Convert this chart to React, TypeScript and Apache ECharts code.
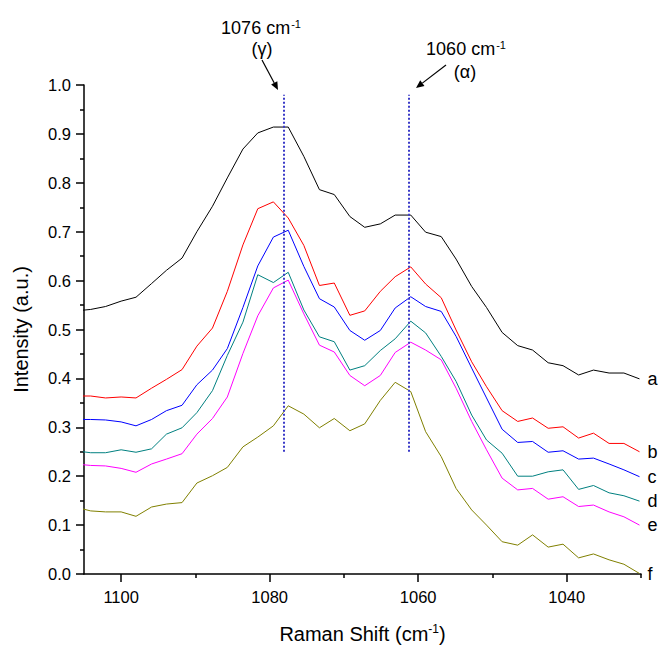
import React, { useEffect, useRef } from "react";
import * as echarts from "echarts";

// Raman shift positions (cm-1)
const ramanShift = [
  1106.2, 1104.1, 1102.1, 1100.0, 1098.0, 1095.9, 1093.9, 1091.8, 1089.8, 1087.7,
  1085.7, 1083.6, 1081.6, 1079.5, 1077.5, 1075.4, 1073.3, 1071.3, 1069.2, 1067.2,
  1065.1, 1063.1, 1061.0, 1059.0, 1056.9, 1054.9, 1052.8, 1050.8, 1048.7, 1046.6,
  1044.6, 1042.5, 1040.5, 1038.4, 1036.4, 1034.3, 1032.3, 1030.2,
];

const curveA = [
  0.538, 0.541, 0.547, 0.558, 0.566, 0.594, 0.621, 0.646, 0.700, 0.752,
  0.810, 0.869, 0.902, 0.914, 0.914, 0.854, 0.786, 0.776, 0.731, 0.709,
  0.716, 0.734, 0.734, 0.699, 0.690, 0.644, 0.588, 0.545, 0.494, 0.467,
  0.458, 0.432, 0.426, 0.407, 0.417, 0.411, 0.411, 0.399,
];
const curveB = [
  0.364, 0.364, 0.360, 0.362, 0.360, 0.380, 0.398, 0.418, 0.466, 0.503,
  0.578, 0.673, 0.747, 0.761, 0.728, 0.672, 0.590, 0.595, 0.529, 0.538,
  0.578, 0.608, 0.628, 0.593, 0.565, 0.499, 0.434, 0.383, 0.334, 0.312,
  0.319, 0.298, 0.301, 0.278, 0.288, 0.267, 0.267, 0.250,
];
const curveC = [
  0.316, 0.316, 0.315, 0.311, 0.303, 0.316, 0.334, 0.345, 0.387, 0.417,
  0.461, 0.545, 0.630, 0.689, 0.703, 0.629, 0.563, 0.546, 0.498, 0.478,
  0.498, 0.544, 0.567, 0.547, 0.537, 0.486, 0.421, 0.360, 0.296, 0.269,
  0.271, 0.249, 0.252, 0.235, 0.237, 0.225, 0.213, 0.199,
];
const curveD = [
  0.252, 0.248, 0.248, 0.254, 0.249, 0.256, 0.286, 0.299, 0.330, 0.375,
  0.447, 0.515, 0.612, 0.596, 0.617, 0.540, 0.485, 0.475, 0.417, 0.426,
  0.457, 0.481, 0.517, 0.493, 0.445, 0.394, 0.325, 0.274, 0.247, 0.200,
  0.200, 0.209, 0.213, 0.173, 0.181, 0.166, 0.160, 0.149,
];
const curveE = [
  0.225, 0.222, 0.221, 0.216, 0.208, 0.225, 0.235, 0.246, 0.286, 0.318,
  0.362, 0.451, 0.528, 0.585, 0.601, 0.532, 0.468, 0.454, 0.406, 0.385,
  0.406, 0.453, 0.474, 0.458, 0.438, 0.380, 0.312, 0.254, 0.196, 0.172,
  0.175, 0.153, 0.158, 0.138, 0.141, 0.127, 0.117, 0.100,
];
const curveF = [
  0.137, 0.129, 0.127, 0.127, 0.118, 0.137, 0.143, 0.146, 0.186, 0.201,
  0.218, 0.260, 0.280, 0.303, 0.344, 0.327, 0.299, 0.318, 0.293, 0.307,
  0.355, 0.392, 0.373, 0.291, 0.240, 0.175, 0.131, 0.100, 0.066, 0.059,
  0.080, 0.055, 0.061, 0.033, 0.041, 0.029, 0.020, 0.001,
];

const curveNames = ["a", "b", "c", "d", "e", "f"];
const curveValues = [curveA, curveB, curveC, curveD, curveE, curveF];
const curveColors = ["#000000", "#ff0000", "#0000ff", "#008080", "#ff00ff", "#808000"];

const xMajorTicks = [1040, 1060, 1080, 1100];
const xMinorTicks = [1030, 1050, 1070, 1090];
const markerShifts = [1078.1, 1061.3];
const markerRange = [0.25, 0.98];

const FONT = "'Liberation Sans', Arial, Helvetica, sans-serif";

function arrow(x1: number, y1: number, x2: number, y2: number) {
  const ang = Math.atan2(y2 - y1, x2 - x1);
  const len = 8;
  const half = 3.5;
  const bx = x2 - len * Math.cos(ang);
  const by = y2 - len * Math.sin(ang);
  const px = -Math.sin(ang) * half;
  const py = Math.cos(ang) * half;
  return {
    type: "group",
    children: [
      {
        type: "line",
        shape: { x1, y1, x2: bx, y2: by },
        style: { stroke: "#000", lineWidth: 1.2 },
      },
      {
        type: "polygon",
        shape: { points: [[x2, y2], [bx + px, by + py], [bx - px, by - py]] },
        style: { fill: "#000" },
      },
    ],
  };
}

function annotation(x: number, y: number, main: string, sup?: string) {
  return {
    type: "text",
    x,
    y,
    style: {
      text: sup ? `{m|${main}}{s|${sup}}` : `{m|${main}}`,
      align: "center",
      verticalAlign: "middle",
      rich: {
        m: { fontSize: 18, fontFamily: FONT, fill: "#000" },
        s: { fontSize: 11, fontFamily: FONT, fill: "#000", padding: [0, 0, 9, 1] },
      },
    },
  };
}

export default function App() {
  const ref = useRef<HTMLDivElement>(null);

  useEffect(() => {
    if (!ref.current) return;
    const chart = echarts.init(ref.current, undefined, { renderer: "svg" });

    const series: any[] = curveNames.map((name, k) => {
      const last = ramanShift.length - 1;
      return {
        name,
        type: "line",
        xAxisIndex: 0,
        data: ramanShift.map((x, i) => [x, curveValues[k][i]]),
        symbol: "none",
        clip: false,
        lineStyle: { color: curveColors[k], width: 1 },
        itemStyle: { color: curveColors[k] },
        markPoint: {
          silent: true,
          symbol: "circle",
          symbolSize: 0,
          data: [
            {
              coord: [ramanShift[last], curveValues[k][last]],
              label: {
                show: true,
                position: "right",
                distance: 8,
                formatter: name,
                color: "#000",
                fontSize: 18,
                fontFamily: FONT,
              },
            },
          ],
        },
        markLine:
          k === 0
            ? {
                silent: true,
                symbol: ["none", "none"],
                label: { show: false },
                lineStyle: { type: [2, 2], color: "#3a3ac8", width: 2 },
                data: markerShifts.map((s) => [
                  { coord: [s, markerRange[0]] },
                  { coord: [s, markerRange[1]] },
                ]),
              }
            : undefined,
      };
    });

    chart.setOption({
      animation: false,
      grid: { left: 84, right: 23, top: 85, bottom: 75 },
      xAxis: [
        {
          type: "value",
          min: 1030,
          max: 1105,
          inverse: true,
          name: "{m|Raman Shift (cm}{s|-1}{m|)}",
          nameLocation: "middle",
          nameGap: 49,
          nameTextStyle: {
            rich: {
              m: { fontSize: 20, fontFamily: FONT, color: "#000" },
              s: { fontSize: 12, fontFamily: FONT, color: "#000", padding: [0, 0, 10, 0] },
            },
          },
          axisLine: { show: true, lineStyle: { color: "#000", width: 1.5 } },
          axisTick: {
            show: true,
            length: 8,
            customValues: xMajorTicks,
            lineStyle: { color: "#000", width: 1.5 },
          },
          axisLabel: {
            customValues: xMajorTicks,
            fontSize: 16.5,
            fontFamily: FONT,
            color: "#000",
            margin: 14,
            formatter: (v: number) => String(v),
          },
          splitLine: { show: false },
        },
        {
          type: "value",
          min: 1030,
          max: 1105,
          inverse: true,
          position: "bottom",
          axisLine: { show: false },
          axisTick: {
            show: true,
            length: 4,
            customValues: xMinorTicks,
            lineStyle: { color: "#000", width: 1.5 },
          },
          axisLabel: { show: false },
          splitLine: { show: false },
        },
      ],
      yAxis: {
        type: "value",
        min: 0,
        max: 1,
        interval: 0.1,
        name: "Intensity (a.u.)",
        nameLocation: "middle",
        nameGap: 53,
        nameTextStyle: { fontSize: 20, fontFamily: FONT, color: "#000" },
        axisLine: { show: true, lineStyle: { color: "#000", width: 1.5 } },
        axisTick: { show: true, length: 8, lineStyle: { color: "#000", width: 1.5 } },
        minorTick: { show: true, splitNumber: 2, length: 4, lineStyle: { color: "#000", width: 1.5 } },
        axisLabel: {
          fontSize: 16.5,
          fontFamily: FONT,
          color: "#000",
          margin: 13,
          formatter: (v: number) => v.toFixed(1),
        },
        splitLine: { show: false },
        minorSplitLine: { show: false },
      },
      series,
      graphic: [
        annotation(261, 28, "1076 cm", "-1"),
        annotation(262, 49, "(γ)"),
        annotation(466, 49, "1060 cm", "-1"),
        annotation(465, 72, "(α)"),
        arrow(262, 60, 278, 90),
        arrow(446, 65, 416, 88),
      ],
    });

    return () => chart.dispose();
  }, []);

  return (
    <div
      ref={ref}
      style={{ position: "fixed", left: 0, top: 0, width: 664, height: 649, background: "#fff" }}
    />
  );
}
